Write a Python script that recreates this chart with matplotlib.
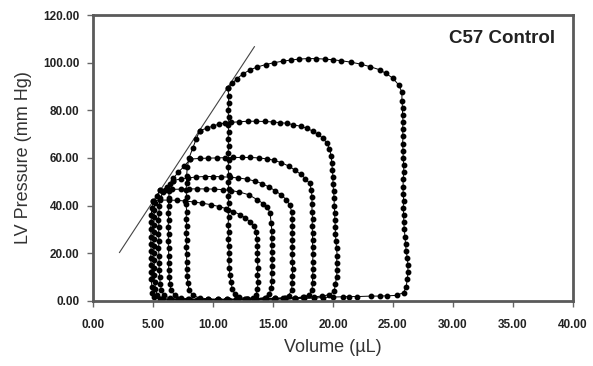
import matplotlib
matplotlib.use("Agg")
import matplotlib.pyplot as plt

plt.rcParams['font.family'] = ['Liberation Sans', 'DejaVu Sans']

# PV loops (volume in uL, pressure in mm Hg)
loop1_vol = [11.25, 11.3, 11.3, 11.25, 11.3, 11.25, 11.3, 11.25, 11.3, 11.25, 11.3, 11.25, 11.3, 11.25, 11.3,
             11.25, 11.3, 11.25, 11.3, 11.25, 11.3, 11.25, 11.3, 11.35, 11.3, 11.35, 11.4, 11.5, 11.6, 11.8,
             12.2, 12.8, 13.5, 14.3, 15.2, 16.0, 16.8, 17.6, 18.4, 19.2, 20.0, 20.8, 21.3, 22.0, 23.2, 23.9,
             24.5, 25.3, 25.9, 26.1, 26.2, 26.25, 26.25, 26.2, 26.1, 26.05, 26.0, 25.95, 25.9, 25.9, 25.85,
             25.9, 25.85, 25.85, 25.85, 25.9, 25.9, 25.85, 25.85, 25.8, 25.85, 25.8, 25.85, 25.8, 25.8, 25.75,
             25.75, 25.5, 25.0, 24.4, 23.9, 23.1, 22.3, 21.5, 20.7, 20.0, 19.3, 18.6, 17.9, 17.2, 16.5, 15.8,
             15.1, 14.4, 13.7, 13.1, 12.5, 12.0, 11.6, 11.25]
loop1_p = [89.4, 86, 83, 80, 77, 74, 71, 68, 65, 62, 59, 56, 53, 50, 47,
           44, 41, 38, 35, 32, 29, 26, 23, 20, 17, 14, 11, 8, 5, 3,
           1.5, 0.8, 0.6, 0.6, 0.7, 0.8, 0.9, 1.0, 1.2, 1.4, 1.6, 1.7, 1.8, 1.8, 2.0, 2.0,
           2.1, 2.3, 3.5, 6, 9, 12, 15, 18, 21, 24, 27, 30, 33, 36, 39,
           42, 45, 48, 51, 54, 57, 60, 63, 66, 69, 72, 75, 78, 81, 84,
           87.5, 90.5, 93.5, 95.5, 97, 98.3, 99.4, 100.2, 100.8, 101.2, 101.5, 101.7, 101.7, 101.5, 101.1, 100.6,
           100.0, 99.2, 98.2, 97.0, 95.3, 93.3, 91.3, 89.4]

loop2_vol = [8.9, 8.6, 8.3, 8.0, 7.85, 7.8, 7.8, 7.75, 7.8, 7.75, 7.8, 7.75, 7.8, 7.75, 7.8, 7.75, 7.8, 7.8,
             7.8, 7.85, 7.9, 8.0, 8.3, 8.9, 9.6, 10.4, 11.2, 12.0, 12.8, 13.6, 14.4, 15.2, 16.0, 16.8, 17.6,
             18.4, 19.1, 19.7, 20.1, 20.2, 20.3, 20.35, 20.3, 20.35, 20.3, 20.25, 20.2, 20.2, 20.15, 20.15,
             20.1, 20.1, 20.05, 20.0, 20.0, 19.95, 19.9, 19.85, 19.7, 19.5, 19.15, 18.75, 18.3, 17.8, 17.3,
             16.7, 16.2, 15.6, 15.0, 14.3, 13.6, 12.9, 12.2, 11.5, 11.0, 10.5, 10.0, 9.5, 8.9]
loop2_p = [71.5, 68, 64, 60, 56, 52.5, 49.5, 46.5, 43.5, 40.5, 37.5, 34.5, 31.5, 28.5, 25.5, 22.5, 19.5, 16.5,
           13.5, 10.5, 7.5, 4.5, 2.3, 1.2, 0.8, 0.7, 0.7, 0.7, 0.8, 0.9, 1.0, 1.1, 1.2, 1.3, 1.5,
           1.7, 2.0, 2.6, 4, 7, 10, 13, 16, 19, 22, 25, 28, 31, 34, 37,
           40, 43, 46, 49, 52, 55, 58, 61, 63.8, 66.3, 68.3, 69.9, 71.3, 72.5, 73.3,
           73.9, 74.5, 74.8, 75.1, 75.3, 75.4, 75.4, 75.2, 74.9, 74.7, 74.2, 73.4, 72.5, 71.5]

loop3_vol = [8.1, 7.6, 7.1, 6.7, 6.45, 6.35, 6.3, 6.3, 6.25, 6.3, 6.25, 6.3, 6.25, 6.3, 6.3, 6.3, 6.3, 6.35,
             6.4, 6.5, 6.8, 7.3, 8.0, 8.8, 9.6, 10.4, 11.2, 12.0, 12.8, 13.6, 14.4, 15.2, 16.0, 16.8, 17.5,
             18.0, 18.25, 18.3, 18.3, 18.35, 18.3, 18.35, 18.3, 18.3, 18.3, 18.25, 18.3, 18.25, 18.25, 18.25,
             18.2, 18.05, 17.7, 17.3, 16.8, 16.3, 15.7, 15.1, 14.5, 13.8, 13.1, 12.4, 11.7, 11.0, 10.3, 9.6,
             8.9, 8.1]
loop3_p = [59.5, 56.5, 54, 51.5, 49, 46, 43, 40, 37, 34, 31, 28, 25, 22, 19, 16, 13, 10,
           7, 4.5, 2.3, 1.2, 0.8, 0.7, 0.6, 0.6, 0.6, 0.7, 0.7, 0.8, 0.9, 1.0, 1.1, 1.3, 1.6,
           2.5, 4.5, 7.5, 10.5, 13.5, 16.5, 19.5, 22.5, 25.5, 28.5, 31.5, 34.5, 37.5, 40.5, 43.5,
           46.5, 49.3, 51.3, 53.2, 55, 56.6, 58, 59, 59.6, 60, 60.2, 60.2, 60.2, 60.1, 60, 59.9,
           59.8, 59.5]

loop4_vol = [6.7, 6.2, 5.8, 5.6, 5.5, 5.5, 5.45, 5.5, 5.45, 5.5, 5.45, 5.5, 5.5, 5.5, 5.55, 5.6, 5.7, 5.9,
             6.4, 7.1, 7.9, 8.7, 9.5, 10.3, 11.1, 11.9, 12.7, 13.5, 14.3, 15.1, 15.8, 16.3, 16.55, 16.6, 16.6,
             16.65, 16.6, 16.6, 16.6, 16.6, 16.6, 16.6, 16.6, 16.55, 16.4, 16.1, 15.7, 15.2, 14.7, 14.1, 13.5,
             12.8, 12.1, 11.4, 10.7, 10.0, 9.3, 8.6, 7.9, 7.3, 6.7]
loop4_p = [50.5, 48, 45.5, 43, 40, 37, 34, 31, 28, 25, 22, 19, 16, 13, 10, 7, 4.5, 2.3,
           1.1, 0.7, 0.6, 0.5, 0.5, 0.5, 0.5, 0.6, 0.6, 0.7, 0.8, 0.9, 1.2, 2.2, 4.5, 7.5, 10.5,
           13.5, 16.5, 19.5, 22.5, 25.5, 28.5, 31.5, 34.5, 37.5, 40.2, 42.5, 44.4, 46.2, 47.7, 49.2, 50.3,
           51.1, 51.6, 51.9, 52.1, 52.2, 52.2, 52.0, 51.6, 51.2, 50.5]

loop5_vol = [5.6, 5.3, 5.15, 5.1, 5.1, 5.05, 5.1, 5.05, 5.1, 5.05, 5.1, 5.1, 5.1, 5.15, 5.2, 5.35, 5.8, 6.5,
             7.3, 8.1, 8.9, 9.7, 10.5, 11.3, 12.1, 12.9, 13.6, 14.3, 14.7, 14.85, 14.9, 14.9, 14.9, 14.95,
             14.9, 14.9, 14.9, 14.9, 14.85, 14.75, 14.5, 14.2, 13.7, 13.0, 12.2, 11.5, 10.8, 10.1, 9.4, 8.7,
             8.0, 7.3, 6.6, 6.0, 5.6]
loop5_p = [46.5, 44, 41, 38, 35, 32, 29, 26, 23, 20, 17, 14, 11, 8, 5, 2.5, 1.0, 0.6,
           0.5, 0.4, 0.4, 0.4, 0.5, 0.5, 0.6, 0.7, 0.9, 1.4, 3, 5.5, 8.5, 11.5, 14.5, 17.5,
           20.5, 23.5, 26.5, 29.5, 32.5, 37, 39.4, 40.8, 42.4, 44.5, 45.7, 46.3, 46.7, 46.9, 47.0, 47.0,
           47.0, 46.9, 46.8, 46.7, 46.5]

loop6_vol = [5.0, 4.9, 4.85, 4.85, 4.8, 4.85, 4.8, 4.85, 4.8, 4.85, 4.85, 4.85, 4.9, 4.95, 5.1, 5.6, 6.3, 7.1,
             7.9, 8.7, 9.5, 10.3, 11.1, 11.9, 12.7, 13.3, 13.6, 13.7, 13.75, 13.7, 13.75, 13.7, 13.7, 13.7,
             13.65, 13.6, 13.4, 13.1, 12.7, 12.25, 11.7, 11.1, 10.5, 9.8, 9.1, 8.4, 7.7, 7.0, 6.3, 5.6, 5.0]
loop6_p = [42, 39, 36, 33, 30, 27, 24, 21, 18, 15, 12, 9, 6, 3.5, 1.5, 0.6, 0.4, 0.3,
           0.3, 0.3, 0.3, 0.4, 0.4, 0.5, 0.6, 1.0, 2.5, 5, 8, 11, 14, 17, 20, 23,
           26, 29, 31.5, 33.2, 34.8, 36.2, 37.5, 38.7, 39.6, 40.4, 41.0, 41.5, 41.9, 42.2, 42.3, 42.3, 42]

loops_vol = [loop1_vol, loop2_vol, loop3_vol, loop4_vol, loop5_vol, loop6_vol]
loops_p = [loop1_p, loop2_p, loop3_p, loop4_p, loop5_p, loop6_p]

# end-systolic pressure-volume line
espvr_vol = [2.2, 13.45]
espvr_p = [20.3, 106.7]

x_ticks = [0, 5, 10, 15, 20, 25, 30, 35, 40]
y_ticks = [0, 20, 40, 60, 80, 100, 120]

fig = plt.figure(figsize=(5.93, 3.66), dpi=100)
ax = fig.add_axes([0.157, 0.178, 0.809, 0.781])

ax.plot(espvr_vol, espvr_p, color="#444444", lw=0.8)
for v, p in zip(loops_vol, loops_p):
    ax.plot(v, p, color="black", lw=0.7, marker='o', ms=3.2, mec="black", mfc="black")

ax.set_xlim(0, 40)
ax.set_ylim(0, 120)
ax.set_xticks(x_ticks)
ax.set_yticks(y_ticks)
ax.set_xticklabels([f"{t:.2f}" for t in x_ticks], fontsize=8.5, fontweight='bold', color="#222222")
ax.set_yticklabels([f"{t:.2f}" for t in y_ticks], fontsize=8.5, fontweight='bold', color="#222222")
ax.tick_params(direction='out', length=4, width=1, color="#666666")
ax.tick_params(axis='x', pad=9)
ax.tick_params(axis='y', pad=6)

for s in ax.spines.values():
    s.set_color("#5a5a5a")
    s.set_linewidth(2)

ax.set_xlabel("Volume (\u00b5L)", fontsize=13, color="#333333", labelpad=6)
ax.set_ylabel("LV Pressure (mm Hg)", fontsize=13, color="#333333", labelpad=8)

ax.text(38.5, 110, "C57 Control", fontsize=13.5, fontweight='bold', ha='right', va='center', color="#222222")

fig.savefig("out.png", dpi=100)
